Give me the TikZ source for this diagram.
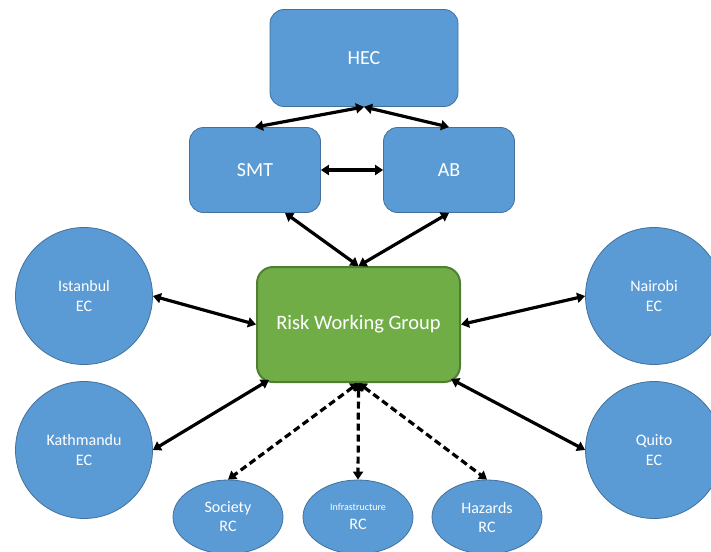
\documentclass[tikz,border=0pt]{standalone}
\usepackage{fontspec}
\setmainfont{Carlito}
\usetikzlibrary{arrows.meta,shapes.geometric}
\definecolor{boxblue}{HTML}{5B9BD5}
\definecolor{boxblueline}{HTML}{41719C}
\definecolor{groupgreen}{HTML}{70AD47}
\definecolor{groupgreenline}{HTML}{507E32}
\begin{document}
\begin{tikzpicture}[x=1pt, y=-1pt,
    board/.style={draw=boxblueline, line width=0.8pt, fill=boxblue, text=white, rounded corners=14pt, font=\fontsize{20}{24}\selectfont},
    center/.style={draw=boxblueline, line width=0.8pt, fill=boxblue, text=white, circle, minimum size=137pt, inner sep=0pt, align=center, font=\fontsize{16}{20}\selectfont},
    cluster/.style={draw=boxblueline, line width=0.8pt, fill=boxblue, text=white, ellipse, minimum width=110pt, minimum height=74pt, inner sep=0pt, align=center, font=\fontsize{16}{19}\selectfont},
    link/.style={line width=3.2pt, {Triangle[length=8pt,width=10pt]}-{Triangle[length=8pt,width=10pt]}},
    dashlink/.style={link, dash pattern=on 7pt off 4pt}]
        \useasboundingbox (0, 0) rectangle (711, 551);
        \node[board, minimum width=188pt, minimum height=97pt] (hec) at(364, 58){HEC};
            \node[board, minimum width=131pt, minimum height=85pt] (smt) at(255, 170){SMT};
            \node[board, minimum width=131pt, minimum height=85pt] (ab) at(449, 170){AB};
        \node[draw=groupgreenline, line width=2pt, fill=groupgreen, text=white, rounded corners=16pt, minimum width=203pt, minimum height=115pt, font=\fontsize{20.5}{24}\selectfont] (rwg) at(358.5, 324.5){Risk Working Group};

        \node[center] (istanbul) at(84, 296){Istanbul\\EC};
        \node[center] (kathmandu) at(84, 450){Kathmandu\\EC};
        \node[center] (nairobi) at(654, 296){Nairobi\\EC};
        \node[center] (quito) at(654, 450){Quito\\EC};

            \node[cluster] (society) at(228, 517){Society\\RC};
            \node[cluster] (infra) at(358, 517){{\fontsize{10}{12}\selectfont Infrastructure}\\RC};
            \node[cluster] (hazards) at(487, 517){Hazards\\RC};

        \draw[link](hec.south) to (smt.north);
        \draw[link](hec.south) to (ab.north);
        \draw[link](smt.east) to (ab.west);
        \draw[link]([xshift=30pt]smt.south) to (rwg.north);
        \draw[link](ab.south) to (rwg.north);

        \draw[link](istanbul.east) to (rwg.west);
        \draw[link](kathmandu.east) to ([xshift=13pt, yshift=3pt]rwg.south west);
        \draw[link](nairobi.west) to (rwg.east);
        \draw[link](quito.west) to ([xshift=-10pt, yshift=4pt]rwg.south east);

            \draw[dashlink](rwg.south) to (society.north);
            \draw[dashlink](rwg.south) to (infra.north);
            \draw[dashlink](rwg.south) to (hazards.north);
\end{tikzpicture}
\end{document}
